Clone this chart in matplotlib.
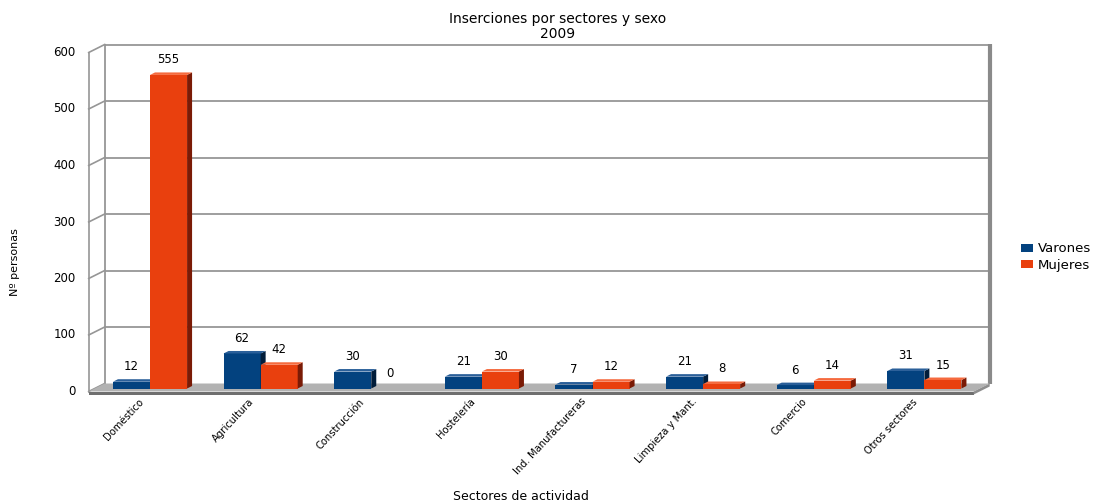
import matplotlib
matplotlib.use('Agg')
import matplotlib.pyplot as plt
from matplotlib.patches import Polygon, Rectangle
from matplotlib.transforms import offset_copy
import numpy as np

# ---------------- data ----------------
categories = ['Doméstico', 'Agricultura', 'Construcción', 'Hostelería',
              'Ind. Manufactureras', 'Limpieza y Mant.', 'Comercio', 'Otros sectores']
varones = [12, 62, 30, 21, 7, 21, 6, 31]
mujeres = [555, 42, 0, 30, 12, 8, 14, 15]
series_names = ['Varones', 'Mujeres']
yticks = [0, 100, 200, 300, 400, 500, 600]
title_lines = ['Inserciones por sectores y sexo', '2009']
xlabel = 'Sectores de actividad'
ylabel = 'Nº personas'

# ---------------- style ----------------
plt.rcParams['font.family'] = ['DejaVu Sans']
W, H, DPI = 1098, 503, 100
colors = {
    'Varones': dict(front='#03427f', top='#2a5f99', side='#011d3a'),
    'Mujeres': dict(front='#e9400e', top='#f56a3e', side='#7a1b06'),
}
grid_c = '#969696'
txt_c = '#000000'

fig = plt.figure(figsize=(W / DPI, H / DPI), dpi=DPI)
ax_l, ax_w = 94.7, 885.0
ax_top, ax_bot = 49.5, 388.5
ax = fig.add_axes([ax_l / W, 1 - ax_bot / H, ax_w / W, (ax_bot - ax_top) / H])
n = len(categories)
ax.set_xlim(-0.5, n - 0.5)
ax.set_ylim(0, yticks[-1])
ax.patch.set_visible(False)
for s in ax.spines.values():
    s.set_visible(False)
ax.set_xticks([])
ax.set_yticks([])

kx = n / ax_w                       # data units per pixel (x)
ky = yticks[-1] / (ax_bot - ax_top)  # data units per pixel (y)
x0, x1 = -0.5, n - 0.5
bx, by = 10 * kx, 5 * ky     # back wall offset
fx, fy = -6 * kx, -3 * ky    # front offset
ymax = yticks[-1]

# back wall gridlines and edges
for v in yticks[1:]:
    ax.plot([x0 + bx, x1 + bx], [v + by, v + by], color=grid_c, lw=1.3,
            clip_on=False, zorder=1, solid_capstyle='butt')
ax.plot([x0 + bx, x0 + bx], [by, ymax + by], color=grid_c, lw=1.3, clip_on=False, zorder=1)
ax.plot([x1 + bx, x1 + bx], [by, ymax + by + 0.5 * ky], color='#8a8a8a', lw=3,
        clip_on=False, zorder=1, solid_capstyle='butt')

# front-left axis and slanted ticks
ax.plot([x0 + fx, x0 + fx], [fy, ymax + fy], color=grid_c, lw=1.2, clip_on=False, zorder=1)
for v in yticks:
    ax.plot([x0 + fx, x0 + bx], [v + fy, v + by], color=grid_c, lw=1.2,
            clip_on=False, zorder=1)

# floor
floor_top = Polygon([(x0 + bx, by), (x1 + bx, by), (x1 + fx, fy), (x0 + fx, fy)],
                    closed=True, facecolor='#b2b2b2', edgecolor='none',
                    clip_on=False, zorder=2)
ax.add_patch(floor_top)
th = 3 * ky
floor_front = Polygon([(x0 + fx, fy), (x1 + fx, fy), (x1 + fx, fy - th), (x0 + fx, fy - th)],
                      closed=True, facecolor='#6f6f6f', edgecolor='none',
                      clip_on=False, zorder=2)
ax.add_patch(floor_front)
floor_side = Polygon([(x1 + fx, fy), (x1 + bx, by), (x1 + bx, by - th), (x1 + fx, fy - th)],
                     closed=True, facecolor='#8e8e8e', edgecolor='none',
                     clip_on=False, zorder=2)
ax.add_patch(floor_side)

# bars
w = 0.335
dxs, dys = 5 * kx, 2.5 * ky
x = np.arange(n)
series = [varones, mujeres]
offsets = [-w / 2, w / 2]
for si, (name, vals, off) in enumerate(zip(series_names, series, offsets)):
    c = colors[name]
    z = 3 + si
    ax.bar(x + off, vals, width=w, color=c['front'], zorder=z, linewidth=0)
    for xi, v in zip(x, vals):
        if v <= 0:
            continue
        left, right = xi + off - w / 2, xi + off + w / 2
        side = Polygon([(right, 0), (right + dxs, dys), (right + dxs, v + dys), (right, v)],
                       closed=True, facecolor=c['side'], edgecolor='none', zorder=z + 0.1)
        top = Polygon([(left, v), (right, v), (right + dxs, v + dys), (left + dxs, v + dys)],
                      closed=True, facecolor=c['top'], edgecolor='none', zorder=z + 0.2)
        ax.add_patch(side)
        ax.add_patch(top)
    for xi, v in zip(x, vals):
        ax.annotate(str(v), (xi + off, v), xytext=(0, 10.8), textcoords='offset points',
                    ha='center', va='center', fontsize=8.5, color=txt_c, zorder=10)

# y tick labels (front)
ytr = offset_copy(ax.transData, fig, x=-19, y=-3, units='dots')
for v in yticks:
    ax.text(x0, v, str(v), transform=ytr, ha='right', va='center', fontsize=8.5,
            color=txt_c)

# x tick labels
xtr = offset_copy(ax.transData, fig, x=-12, y=-8, units='dots')
for xi, cat in zip(x, categories):
    ax.text(xi, 0, cat, transform=xtr, rotation=47, rotation_mode='anchor',
            ha='right', va='top', fontsize=7.2, color=txt_c)

# titles
fig.text(558 / W, 1 - 19 / H, title_lines[0], ha='center', va='center', fontsize=10, color=txt_c)
fig.text(558 / W, 1 - 33.5 / H, title_lines[1], ha='center', va='center', fontsize=10, color=txt_c)
fig.text(520.5 / W, 1 - 496 / H, xlabel, ha='center', va='center', fontsize=9, color=txt_c)
fig.text(15 / W, 1 - 262 / H, ylabel, ha='center', va='center', rotation=90, fontsize=8,
         color=txt_c)

# legend
leg_y = [248, 264]
for name, yy in zip(series_names, leg_y):
    fig.add_artist(Rectangle((1021 / W, 1 - (yy + 4) / H), 12 / W, 8 / H,
                             transform=fig.transFigure, facecolor=colors[name]['front'],
                             edgecolor='none'))
    fig.text(1038 / W, 1 - (yy + 1) / H, name, ha='left', va='center', fontsize=9.5,
             color=txt_c)

fig.savefig('out.png', dpi=DPI, facecolor='white')
